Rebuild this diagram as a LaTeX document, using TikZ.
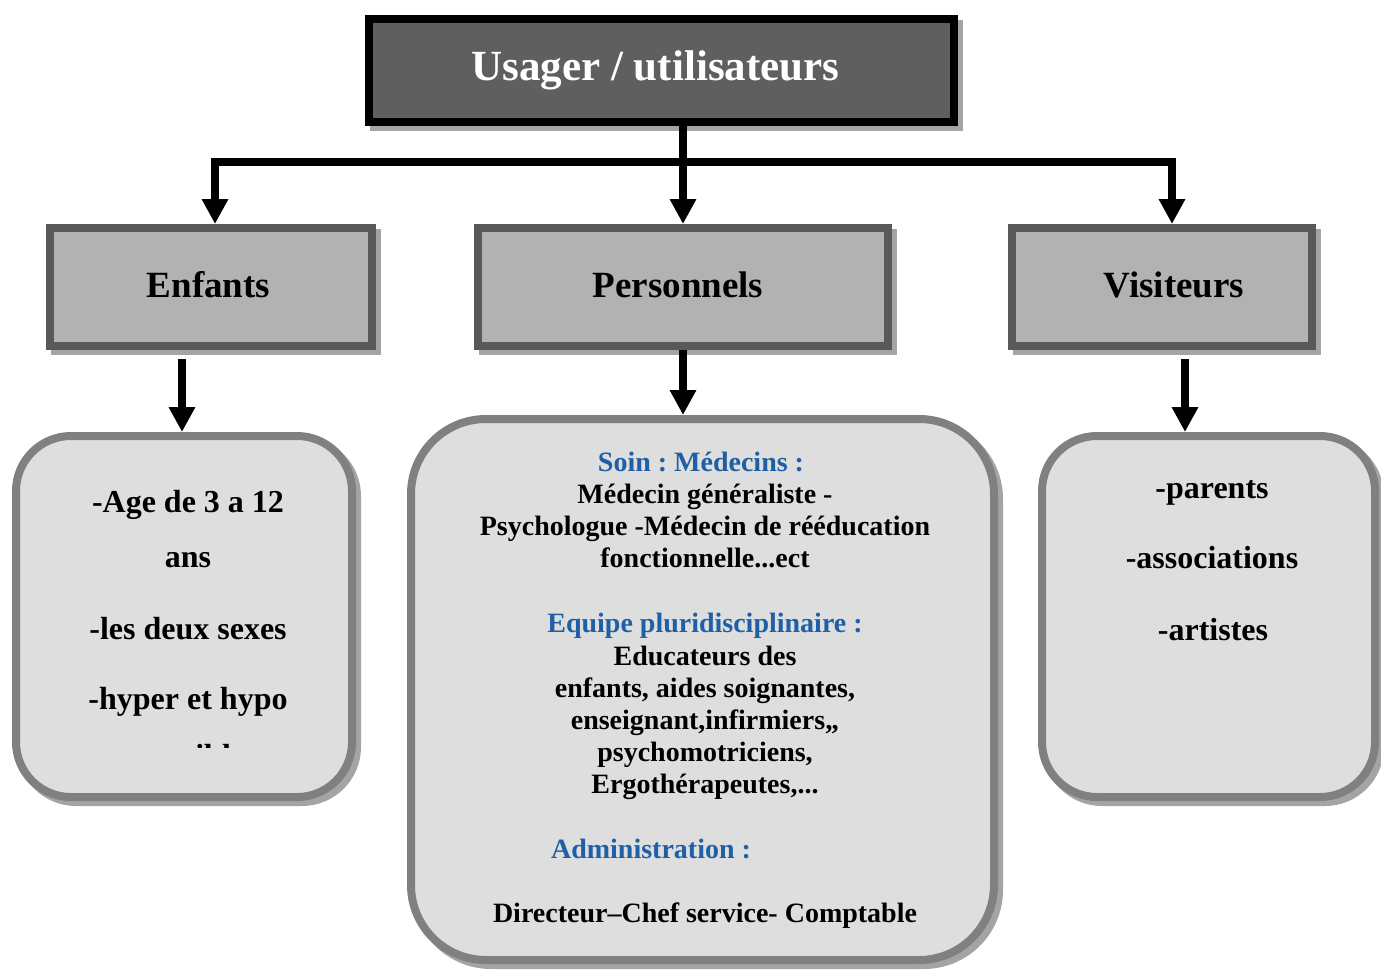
\documentclass[tikz,border=0pt]{standalone}
\usepackage{fontspec}
\setmainfont{Liberation Serif}
\usetikzlibrary{arrows.meta,calc,shadows}
\frenchspacing

\definecolor{topfill}{HTML}{5F5F5F}
\definecolor{midfill}{HTML}{B2B2B2}
\definecolor{midline}{HTML}{595959}
\definecolor{lowfill}{HTML}{DEDEDE}
\definecolor{lowline}{HTML}{808080}
\definecolor{shade}{HTML}{A4A4A4}
\definecolor{headblue}{HTML}{1F5FA6}

\begin{document}
\begin{tikzpicture}[x=1pt,y=-1pt,
  boxshadow/.style={drop shadow={shadow xshift=5pt,shadow yshift=-5pt,opacity=1,fill=shade,draw=shade,line width=8pt}},
  topbox/.style={draw=black, line width=8pt, fill=topfill, minimum width=585pt, minimum height=103pt,
    inner sep=0pt, boxshadow, font=\fontsize{43}{48}\selectfont\bfseries, text=white},
  catbox/.style={draw=midline, line width=8pt, fill=midfill, minimum height=118pt, inner sep=0pt, boxshadow},
  catlabel/.style={font=\fontsize{37}{44}\selectfont\bfseries, inner sep=0pt},
  listbox/.style={draw=lowline, line width=8pt, fill=lowfill, inner sep=0pt, boxshadow},
  listtxt/.style={anchor=base, font=\fontsize{32}{38}\selectfont\bfseries, inner sep=0pt},
  bodytxt/.style={anchor=base, font=\fontsize{28}{32}\selectfont\bfseries, inner sep=0pt},
  headtxt/.style={bodytxt, text=headblue},
  arr/.style={line width=7.5pt, -{Triangle[width=25pt,length=25pt]}},
  twoarr/.style={line width=7.5pt, {Triangle[width=25pt,length=25pt]}-{Triangle[width=25pt,length=25pt]}},
]
\useasboundingbox (0,0) rectangle (1381,972);

% top level
\node[topbox] (usager) at (661.5,70.5) {\hspace*{-12pt}Usager / utilisateurs};

% categories
\node[catbox, minimum width=322pt] (enfants) at (211,287) {};
\node[catbox, minimum width=410pt] (personnels) at (683,287) {};
\node[catbox, minimum width=300pt] (visiteurs) at (1162,287) {};
\node[catlabel] (tEnf) at (208.5,285) {Enfants};
\node[catlabel] (tPers) at (678,285) {Personnels};
\node[catlabel] (tVis) at (1174,285) {Visiteurs};

% detail boxes
\node[listbox, rounded corners=55pt, minimum width=336pt, minimum height=361pt] (bEnf) at (184,616.5) {};
\node[listbox, rounded corners=75pt, minimum width=583pt, minimum height=541pt] (bPers) at (702.5,689.5) {};
\node[listbox, rounded corners=55pt, minimum width=333pt, minimum height=361pt] (bVis) at (1208.5,616.5) {};

% connectors
\coordinate (rail) at (0,162);
\coordinate (colE) at (215,0);
\coordinate (colV) at (1172,0);
\coordinate (colA) at (182,0);
\coordinate (colB) at (1185,0);
\draw[twoarr] (enfants.north -| colE) |- (rail -| colV) -- (visiteurs.north -| colV);
\draw[arr] (usager.south -| personnels.north) -- (personnels.north);
\draw[arr] (enfants.south -| colA) ++(0,9) -- (bEnf.north -| colA);
\draw[arr] (personnels.south) -- (bPers.north -| personnels.south);
\draw[arr] (visiteurs.south -| colB) ++(0,9) -- (bVis.north -| colB);

% children
\node[listtxt] (e1) at (188,512) {-Age de 3 a 12};
\node[listtxt] (e2) at (188,567) {ans};
\node[listtxt] (e3) at (188,639) {-les deux sexes};
\node[listtxt] (e4) at (188,709) {-hyper et hypo};
\begin{scope}
  \clip (100,700) rectangle (280,747);
  \node[listtxt] (e5) at (198,766) {sensibles};
\end{scope}

% staff
\node[headtxt] (p1) at (701,471) {Soin : Médecins :};
\node[bodytxt] (p2) at (705,503) {Médecin généraliste -};
\node[bodytxt] (p3) at (705,535) {Psychologue -Médecin de rééducation};
\node[bodytxt] (p4) at (705,567) {fonctionnelle...ect};
\node[headtxt] (p5) at (705,632) {Equipe pluridisciplinaire :};
\node[bodytxt] (p6) at (705,665) {Educateurs des};
\node[bodytxt] (p7) at (705,697) {enfants, aides soignantes,};
\node[bodytxt] (p8) at (705,729) {enseignant,infirmiers,,};
\node[bodytxt] (p9) at (705,761) {psychomotriciens,};
\node[bodytxt] (p10) at (705,793) {Ergothérapeutes,...};
\node[headtxt] (p11) at (651,858) {Administration :};
\node[bodytxt] (p12) at (705,922) {Directeur–Chef service- Comptable};

% visitors
\node[listtxt] (v1) at (1212,498) {-parents};
\node[listtxt] (v2) at (1212,568) {-associations};
\node[listtxt] (v3) at (1213,640) {-artistes};
\end{tikzpicture}
\end{document}
